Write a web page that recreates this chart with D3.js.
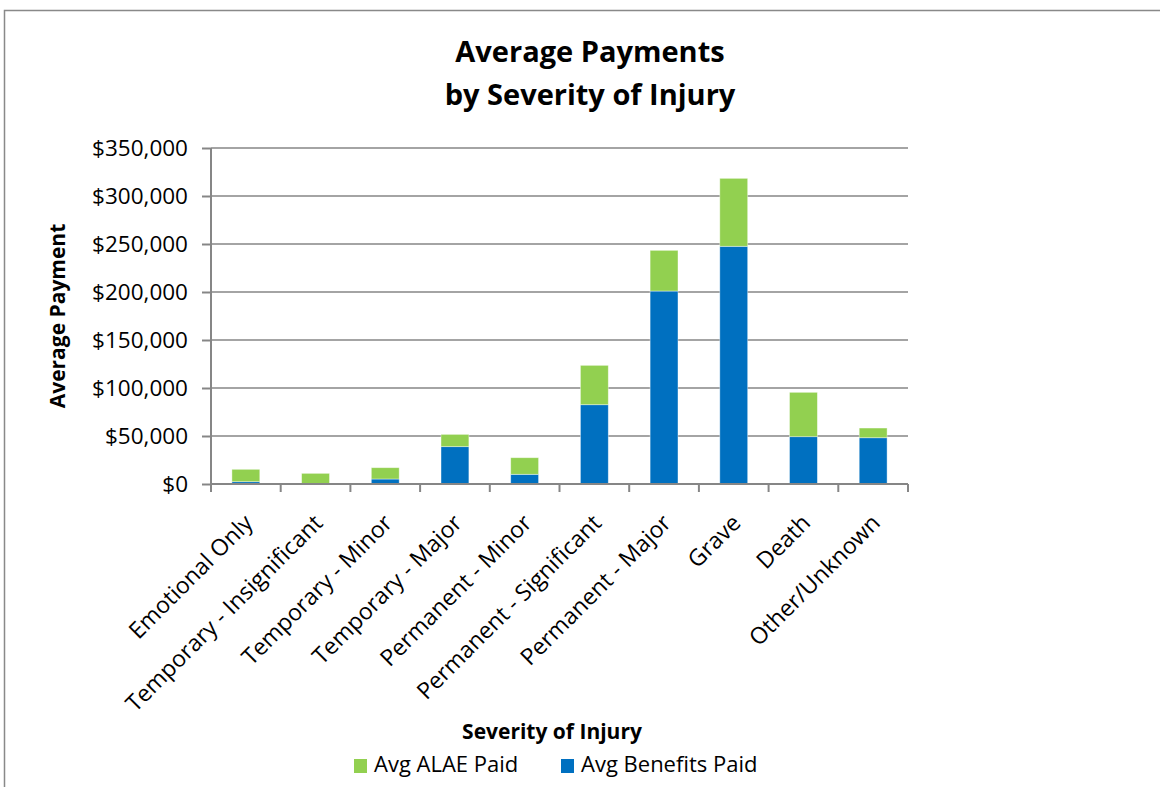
<!DOCTYPE html>
<html lang="en">
<head>
  <meta charset="UTF-8">
  <title>Average Payments by Severity of Injury</title>
  <script src="https://cdn.jsdelivr.net/npm/d3@7"></script>
  <style>
    body{ margin:0; background:#fff; }
    .chart svg{ display:block; font-family:'Open Sans', sans-serif; }
    .axis path, .axis line{ stroke:#868686; }
  </style>
</head>
<body>
<div class="chart"></div>
<script>
  const categories = ['Emotional Only', 'Temporary - Insignificant', 'Temporary - Minor', 'Temporary - Major',
    'Permanent - Minor', 'Permanent - Significant', 'Permanent - Major', 'Grave', 'Death', 'Other/Unknown'];
  const benefitsPaid = [2400, 300, 5200, 38900, 10100, 82600, 201000, 247600, 49300, 48200];
  const alaePaid = [12900, 10800, 11800, 12800, 17300, 41000, 42400, 70800, 46200, 10100];
  const yTicks = [0, 50000, 100000, 150000, 200000, 250000, 300000, 350000];
  const seriesNames = ['Avg ALAE Paid', 'Avg Benefits Paid'];
  const colors = {benefits:'#0070C0', alae:'#92D050'};

  let chart = {
    size: {w:1160, h:787},
    margin: {left:211, top:148, right:252, bottom:303}
  };
  chart.inBox = {w: chart.size.w-chart.margin.left-chart.margin.right, h: chart.size.h-chart.margin.top-chart.margin.bottom};

  const rows = categories.map((c, i) => ({cat:c, benefits:benefitsPaid[i], alae:alaePaid[i]}));
  const stack = d3.stack().keys(['benefits', 'alae'])(rows);

  let x = d3.scaleBand().domain(categories).range([0, chart.inBox.w]).paddingInner(0.6).paddingOuter(0.3);
  let y = d3.scaleLinear().domain([0, 350000]).range([chart.inBox.h, 0]);

  let svg = d3.select('.chart').append('svg')
    .attr('width', chart.size.w)
    .attr('height', chart.size.h);

  // chart frame (cropped at right / bottom)
  svg.append('rect')
    .attr('x', 4.5).attr('y', 10.5)
    .attr('width', 1300).attr('height', 1000)
    .attr('fill', '#fff').attr('stroke', '#898989').attr('stroke-width', 1.5);

  let g = svg.append('g').attr('transform', `translate(${chart.margin.left} ${chart.margin.top})`);

  // gridlines
  g.append('g').selectAll('line').data(yTicks.slice(1)).enter().append('line')
    .attr('x1', 0).attr('x2', chart.inBox.w)
    .attr('y1', d => y(d)).attr('y2', d => y(d))
    .attr('stroke', '#868686').attr('stroke-width', 1.5);

  // bars
  g.append('g').selectAll('g').data(stack).enter().append('g')
    .attr('fill', d => colors[d.key])
    .selectAll('rect').data(d => d).enter().append('rect')
    .attr('x', d => x(d.data.cat))
    .attr('width', x.bandwidth())
    .attr('y', d => y(d[1]))
    .attr('height', d => y(d[0]) - y(d[1]))
    .attr('stroke', 'rgba(255,255,255,0.5)').attr('stroke-width', 0.8);

  // y axis
  let yAxis = d3.axisLeft(y).tickValues(yTicks).tickSize(9).tickPadding(14)
    .tickFormat(d => '$' + d3.format(',')(d));
  let ya = g.append('g').attr('class', 'axis').call(yAxis);
  ya.selectAll('path, line').attr('stroke-width', 2);
  ya.select('.domain').attr('d', `M0,0V${chart.inBox.h + 7}`);
  ya.selectAll('text').attr('font-size', 22.5).attr('fill', '#000').attr('font-family', 'Open Sans');

  // x axis with ticks at band edges
  let xa = g.append('g').attr('class', 'axis').attr('transform', `translate(0 ${chart.inBox.h})`);
  xa.append('line').attr('x1', 0).attr('x2', chart.inBox.w).attr('stroke-width', 2);
  const edges = d3.range(categories.length + 1).map(i => i * chart.inBox.w / categories.length);
  xa.selectAll('.tk').data(edges).enter().append('line').attr('class', 'tk')
    .attr('x1', d => d).attr('x2', d => d).attr('y1', 0).attr('y2', 8).attr('stroke-width', 2);
  xa.selectAll('text').data(categories).enter().append('text')
    .attr('transform', d => `translate(${x(d) + x.bandwidth() / 2 - 3} 29) rotate(-45)`)
    .attr('text-anchor', 'end')
    .attr('dy', '0.7em')
    .attr('font-size', 23)
    .text(d => d);

  // titles
  const title = svg.append('text').attr('text-anchor', 'middle').attr('font-weight', 'bold').attr('font-size', 29);
  title.append('tspan').attr('x', 590).attr('y', 62).text('Average Payments');
  title.append('tspan').attr('x', 590).attr('y', 105).text('by Severity of Injury');

  svg.append('text')
    .attr('transform', `translate(65 ${chart.margin.top + chart.inBox.h / 2}) rotate(-90)`)
    .attr('text-anchor', 'middle').attr('font-weight', 'bold').attr('font-size', 21)
    .text('Average Payment');

  svg.append('text').attr('x', 552).attr('y', 739)
    .attr('text-anchor', 'middle').attr('font-weight', 'bold').attr('font-size', 21)
    .text('Severity of Injury');

  // legend
  const legendX = [354, 561];
  const legendColors = [colors.alae, colors.benefits];
  const lg = svg.append('g').selectAll('g').data(seriesNames).enter().append('g')
    .attr('transform', (d, i) => `translate(${legendX[i]} 759)`);
  lg.append('rect').attr('width', 13).attr('height', 14).attr('fill', (d, i) => legendColors[i]);
  lg.append('text').attr('x', 20).attr('y', 13).attr('font-size', 22).text(d => d);
</script>
</body>
</html>
